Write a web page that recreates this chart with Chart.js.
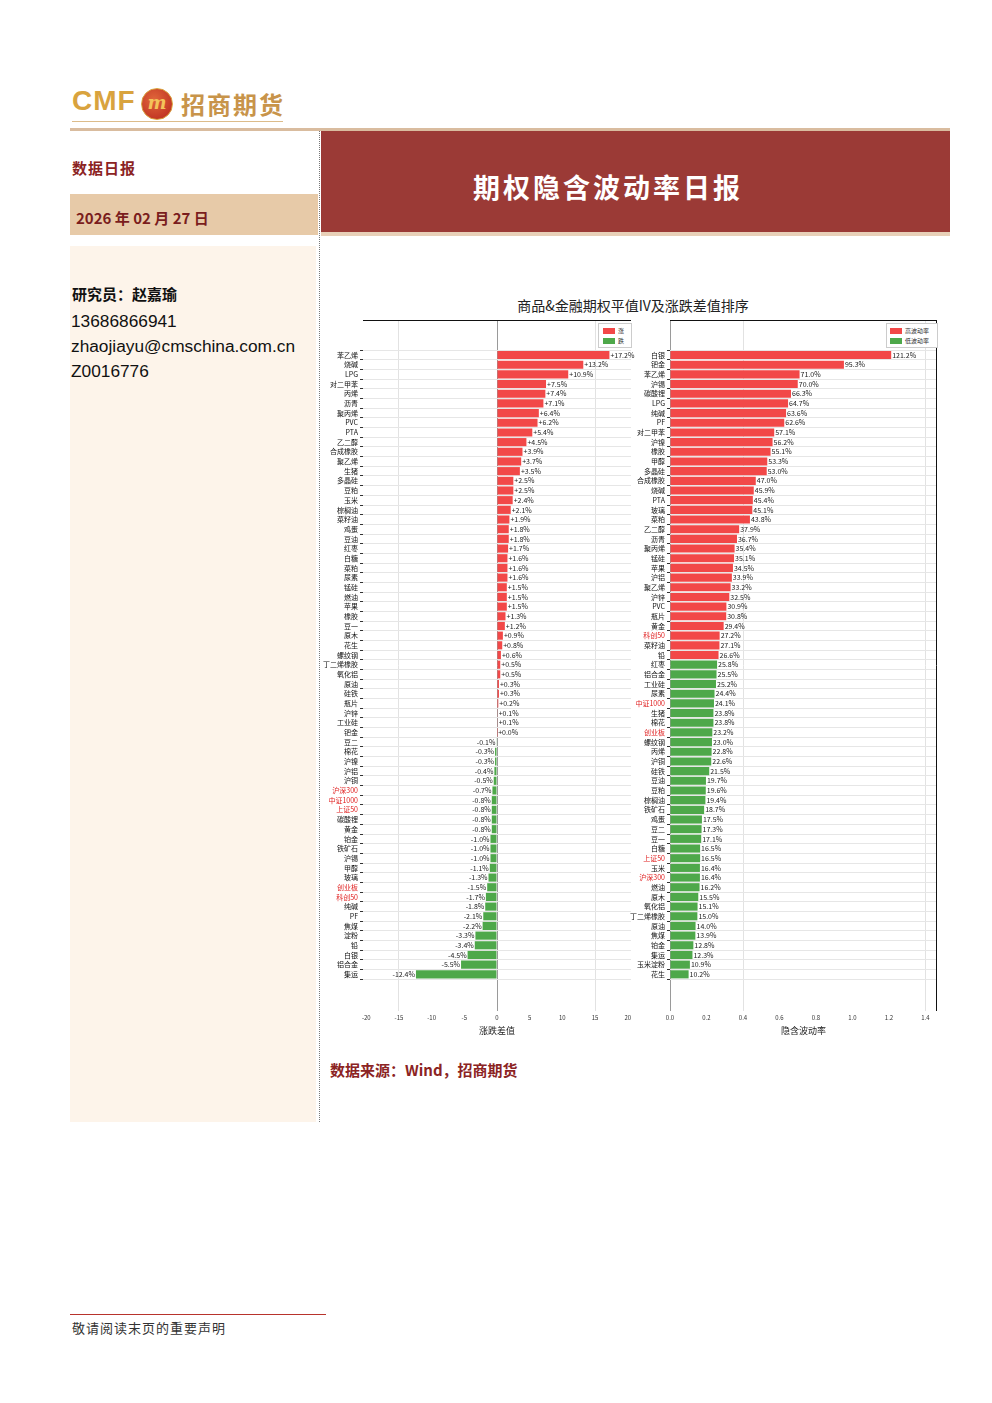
<!DOCTYPE html>
<html>
<head>
<meta charset="utf-8">
<script src="https://cdn.jsdelivr.net/npm/chart.js@4.4.1/dist/chart.umd.min.js"></script>
<style>
  body { margin: 0; background: #fff; font-family: 'Noto Sans CJK SC', 'Noto Sans', sans-serif; }
  #page { position: relative; width: 992px; height: 1403px; overflow: hidden; }
  .abs { position: absolute; }
  .cjk { font-family: 'Noto Sans CJK SC', sans-serif; }
  .legend { position: absolute; background: #fff; border: 1px solid #ccc; }
  .legend i { position: absolute; width: 12px; height: 6px; }
  .legend span { position: absolute; font-size: 6px; line-height: 7px; color: #333; white-space: nowrap; }
</style>
</head>
<body>
<div id="page">
  <!-- logo -->
  <div class="abs" style="left:72px;top:85px;font:bold 28px 'Liberation Sans',Arial,sans-serif;color:#d9a33e;letter-spacing:1px;">CMF</div>
  <div class="abs" style="left:141px;top:88px;width:30px;height:30px;border-radius:50%;background:radial-gradient(circle at 40% 35%,#e0663a,#b8261e);border:1px solid #d9a33e;color:#f3c35a;font:italic bold 18px 'DejaVu Serif',serif;text-align:center;line-height:28px;">m</div>
  <div class="abs cjk" style="left:181px;top:86px;font-weight:bold;font-size:24px;color:#c8944a;letter-spacing:2px;">招商期货</div>
  <div class="abs" style="left:72px;top:121px;width:211px;height:1px;background:#dcbc8a;"></div>

  <!-- header -->
  <div class="abs" style="left:70px;top:128px;width:880px;height:3px;background:#d9bc9f;"></div>
  <div class="abs" style="left:321px;top:131px;width:629px;height:101px;background:#9b3a36;"></div>
  <div class="abs cjk" style="left:473px;top:167px;font-weight:bold;font-size:27px;color:#fff;letter-spacing:3px;">期权隐含波动率日报</div>
  <div class="abs" style="left:321px;top:232px;width:629px;height:4px;background:#e8d0b8;"></div>

  <div class="abs cjk" style="left:72px;top:157px;font-weight:bold;font-size:15px;color:#8b2323;letter-spacing:1px;">数据日报</div>
  <div class="abs" style="left:70px;top:194px;width:248px;height:41px;background:#e7caa8;"></div>
  <div class="abs cjk" style="left:76px;top:207px;font-weight:bold;font-size:15px;color:#7a1d1d;white-space:pre;">2026 年 02 月 27 日</div>

  <!-- sidebar -->
  <div class="abs" style="left:70px;top:246px;width:246px;height:876px;background:#fdf4ea;"></div>
  <div class="abs" style="left:319px;top:131px;width:0;height:991px;border-left:1px dotted #777;"></div>
  <div class="abs cjk" style="left:72px;top:283px;font-weight:bold;font-size:15px;color:#111;">研究员：赵嘉瑜</div>
  <div class="abs" style="left:71px;top:311px;font:17.3px 'Liberation Sans',Arial,sans-serif;color:#111;">13686866941</div>
  <div class="abs" style="left:71px;top:336px;font:17.3px 'Liberation Sans',Arial,sans-serif;color:#111;">zhaojiayu@cmschina.com.cn</div>
  <div class="abs" style="left:71px;top:361px;font:17.3px 'Liberation Sans',Arial,sans-serif;color:#111;">Z0016776</div>

  <!-- chart -->
  <div class="abs cjk" style="left:483px;top:295px;width:300px;text-align:center;font-size:14px;color:#222;">商品&amp;金融期权平值IV及涨跌差值排序</div>
  <div class="abs" style="left:322px;top:320px;width:313px;height:716px;"><canvas id="diffChart"></canvas></div>
  <div class="abs" style="left:627px;top:320px;width:313px;height:716px;"><canvas id="ivChart"></canvas></div>

  <div class="legend" style="left:598px;top:323px;width:32px;height:23px;">
    <i style="left:4px;top:4px;background:#f24848;"></i><span style="left:19px;top:3px;">涨</span>
    <i style="left:4px;top:14px;background:#4ea84a;"></i><span style="left:19px;top:13px;">跌</span>
  </div>
  <div class="legend" style="left:886px;top:323px;width:50px;height:23px;">
    <i style="left:3px;top:4px;background:#f24848;"></i><span style="left:18px;top:3px;">高波动率</span>
    <i style="left:3px;top:14px;background:#4ea84a;"></i><span style="left:18px;top:13px;">低波动率</span>
  </div>

  <div class="abs cjk" style="left:330px;top:1059px;font-weight:bold;font-size:15px;color:#8b2323;">数据来源：Wind，招商期货</div>

  <!-- footer -->
  <div class="abs" style="left:70px;top:1314px;width:256px;height:1px;background:#b8332c;"></div>
  <div class="abs cjk" style="left:72px;top:1318px;font-size:13px;color:#333;letter-spacing:1px;">敬请阅读末页的重要声明</div>
</div>

<script>
'use strict';

/* --------------------------------------------------------------------------
   DATA
   -------------------------------------------------------------------------- */
const diffNames = [
    '苯乙烯', '烧碱', 'LPG', '对二甲苯', '丙烯', '沥青', '聚丙烯', 'PVC', 'PTA', '乙二醇',
    '合成橡胶', '聚乙烯', '生猪', '多晶硅', '豆粕', '玉米', '棕榈油', '菜籽油', '鸡蛋', '豆油',
    '红枣', '白糖', '菜粕', '尿素', '锰硅', '燃油', '苹果', '橡胶', '豆一', '原木',
    '花生', '螺纹钢', '丁二烯橡胶', '氧化铝', '原油', '硅铁', '瓶片', '沪锌', '工业硅', '钯金',
    '豆二', '棉花', '沪镍', '沪铝', '沪铜', '沪深300', '中证1000', '上证50', '碳酸锂', '黄金',
    '铂金', '铁矿石', '沪锡', '甲醇', '玻璃', '创业板', '科创50', '纯碱', 'PF', '焦煤',
    '淀粉', '铅', '白银', '铝合金', '集运',
];
const diffValues = [
    17.2, 13.2, 10.9, 7.5, 7.4, 7.1, 6.4, 6.2, 5.4, 4.5,
    3.9, 3.7, 3.5, 2.5, 2.5, 2.4, 2.1, 1.9, 1.8, 1.8,
    1.7, 1.6, 1.6, 1.6, 1.5, 1.5, 1.5, 1.3, 1.2, 0.9,
    0.8, 0.6, 0.5, 0.5, 0.3, 0.3, 0.2, 0.1, 0.1, 0.02,
    -0.1, -0.3, -0.3, -0.4, -0.5, -0.7, -0.8, -0.8, -0.8, -0.8,
    -1.0, -1.0, -1.0, -1.1, -1.3, -1.5, -1.7, -1.8, -2.1, -2.2,
    -3.3, -3.4, -4.5, -5.5, -12.4,
];

const ivNames = [
    '白银', '钯金', '苯乙烯', '沪锡', '碳酸锂', 'LPG', '纯碱', 'PF', '对二甲苯', '沪镍',
    '橡胶', '甲醇', '多晶硅', '合成橡胶', '烧碱', 'PTA', '玻璃', '菜粕', '乙二醇', '沥青',
    '聚丙烯', '锰硅', '苹果', '沪铝', '聚乙烯', '沪锌', 'PVC', '瓶片', '黄金', '科创50',
    '菜籽油', '铅', '红枣', '铝合金', '工业硅', '尿素', '中证1000', '生猪', '棉花', '创业板',
    '螺纹钢', '丙烯', '沪铜', '硅铁', '豆油', '豆粕', '棕榈油', '铁矿石', '鸡蛋', '豆二',
    '豆一', '白糖', '上证50', '玉米', '沪深300', '燃油', '原木', '氧化铝', '丁二烯橡胶', '原油',
    '焦煤', '铂金', '集运', '玉米淀粉', '花生',
];
// implied volatility, percent
const ivValues = [
    121.2, 95.3, 71.0, 70.0, 66.3, 64.7, 63.6, 62.6, 57.1, 56.2,
    55.1, 53.3, 53.0, 47.0, 45.9, 45.4, 45.1, 43.8, 37.9, 36.7,
    35.4, 35.1, 34.5, 33.9, 33.2, 32.5, 30.9, 30.8, 29.4, 27.2,
    27.1, 26.6, 25.8, 25.5, 25.2, 24.4, 24.1, 23.8, 23.8, 23.2,
    23.0, 22.8, 22.6, 21.5, 19.7, 19.6, 19.4, 18.7, 17.5, 17.3,
    17.1, 16.5, 16.5, 16.4, 16.4, 16.2, 15.5, 15.1, 15.0, 14.0,
    13.9, 12.8, 12.3, 10.9, 10.2,
];
const ivHighCount = 32;   // first rows drawn red

const financialNames = ['沪深300', '中证1000', '上证50', '科创50', '创业板'];
const diffTicks = [-20, -15, -10, -5, 0, 5, 10, 15, 20];
const ivTicks = [0, 0.2, 0.4, 0.6, 0.8, 1.0, 1.2, 1.4];

/* --------------------------------------------------------------------------
   SHARED
   -------------------------------------------------------------------------- */
const RED = '#f24848';
const GREEN = '#4ea84a';
const CJK = "'Noto Sans CJK SC', sans-serif";

// draws value text at the end of each bar
const barLabels = {
    id: 'barLabels',
    afterDatasetsDraw(chart, args, opts) {
        const { ctx } = chart;
        const meta = chart.getDatasetMeta(0);
        ctx.save();
        ctx.font = '7px ' + CJK;
        ctx.fillStyle = '#222';
        ctx.textBaseline = 'middle';
        meta.data.forEach((bar, i) => {
            const v = chart.data.datasets[0].data[i].x;
            const neg = v < 0;
            ctx.textAlign = neg ? 'right' : 'left';
            ctx.fillText(opts.format(v), bar.x + (neg ? -1 : 1), bar.y);
        });
        ctx.restore();
    },
};

// black frame on top (and right side when asked)
const frame = {
    id: 'frame',
    afterDraw(chart, args, opts) {
        const { ctx, chartArea: a } = chart;
        ctx.save();
        ctx.strokeStyle = '#111';
        ctx.lineWidth = 1;
        ctx.beginPath();
        ctx.moveTo(a.left, a.top + 0.5);
        ctx.lineTo(a.right, a.top + 0.5);
        if (opts.right) {
            ctx.moveTo(a.right - 0.5, a.top);
            ctx.lineTo(a.right - 0.5, a.bottom);
        }
        ctx.stroke();
        ctx.restore();
    },
};

function rowScale(names, width) {
    return {
        type: 'linear',
        reverse: true,
        offset: false,
        min: -3.62,
        max: names.length - 1 + 3.79,
        afterBuildTicks: s => { s.ticks = names.map((_, i) => ({ value: i })); },
        afterFit: s => { s.width = width; s.paddingTop = 0; s.paddingBottom = 0; },
        ticks: {
            autoSkip: false,
            padding: 2,
            font: { size: 7, family: CJK },
            color: c => financialNames.includes(names[c.tick.value]) ? '#e02020' : '#111',
            callback: v => names[v],
        },
        grid: { color: '#e6e6e6', tickColor: '#333', tickLength: 3 },
        border: { display: false },
    };
}

function valueScale(min, max, tickList, title, fmt, gridFn) {
    return {
        type: 'linear',
        min, max,
        afterBuildTicks: s => { s.ticks = tickList.map(v => ({ value: v })); },
        afterFit: s => { s.height = 25; s.paddingLeft = 0; s.paddingRight = 0; },
        ticks: { font: { size: 6, family: CJK }, color: '#333', padding: 3, callback: fmt },
        grid: { color: c => gridFn(c.tick.value), drawTicks: false },
        border: { display: false },
        title: { display: true, text: title, font: { size: 9, family: CJK }, color: '#222', padding: { top: 0, bottom: 0 } },
    };
}

/* --------------------------------------------------------------------------
   LEFT: 涨跌差值
   -------------------------------------------------------------------------- */
new Chart(document.getElementById('diffChart'), {
    type: 'bar',
    data: {
        datasets: [{
            data: diffValues.map((v, i) => ({ x: v, y: i })),
            backgroundColor: diffValues.map(v => v >= 0 ? RED : GREEN),
            barPercentage: 0.84,
            categoryPercentage: 1,
        }],
    },
    plugins: [barLabels, frame],
    options: {
        indexAxis: 'y',
        responsive: true,
        maintainAspectRatio: false,
        animation: false,
        layout: { padding: { top: 0, right: 4, left: 0, bottom: 0 } },
        plugins: {
            legend: { display: false },
            tooltip: { enabled: false },
            barLabels: { format: v => (v < 0 ? '-' : '+') + Math.abs(v).toFixed(1) + '%' },
            frame: { right: false },
        },
        scales: {
            x: valueScale(-20.5, 20.5, diffTicks, '涨跌差值', v => String(v),
                v => v === 0 ? '#9a9a9a' : (Math.abs(v) === 15 ? '#e2e2e2' : 'rgba(0,0,0,0)')),
            y: rowScale(diffNames, 41),
        },
    },
});

/* --------------------------------------------------------------------------
   RIGHT: 隐含波动率
   -------------------------------------------------------------------------- */
new Chart(document.getElementById('ivChart'), {
    type: 'bar',
    data: {
        datasets: [{
            data: ivValues.map((v, i) => ({ x: v / 100, y: i })),
            backgroundColor: ivValues.map((v, i) => i < ivHighCount ? RED : GREEN),
            barPercentage: 0.84,
            categoryPercentage: 1,
        }],
    },
    plugins: [barLabels, frame],
    options: {
        indexAxis: 'y',
        responsive: true,
        maintainAspectRatio: false,
        animation: false,
        layout: { padding: { top: 0, right: 3, left: 0, bottom: 0 } },
        plugins: {
            legend: { display: false },
            tooltip: { enabled: false },
            barLabels: { format: v => (v * 100).toFixed(1) + '%' },
            frame: { right: true },
        },
        scales: {
            x: valueScale(0, 1.463, ivTicks, '隐含波动率', v => v.toFixed(1),
                v => v === 0 ? '#9a9a9a' : (v === 0.4 || v === 1.4 ? '#e2e2e2' : 'rgba(0,0,0,0)')),
            y: rowScale(ivNames, 43),
        },
    },
});
</script>
</body>
</html>
